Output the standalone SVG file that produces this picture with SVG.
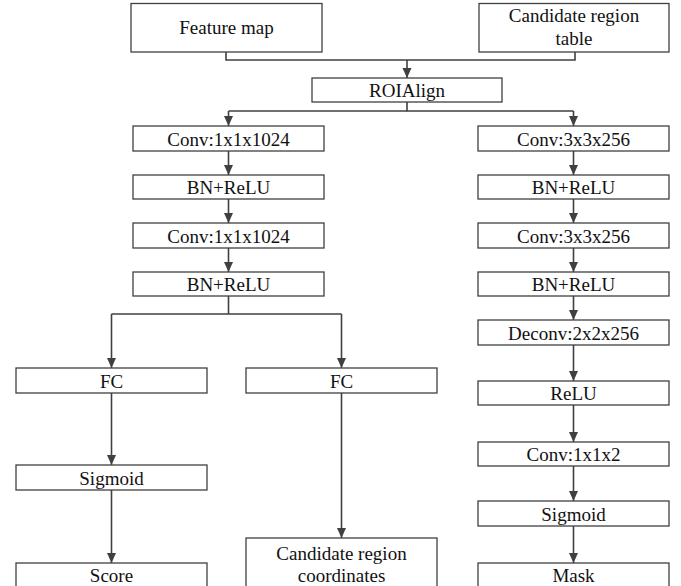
<svg xmlns="http://www.w3.org/2000/svg" width="681" height="586" viewBox="0 0 681 586">
<defs>
<marker id="arr" markerUnits="userSpaceOnUse" markerWidth="10" markerHeight="10" refX="10" refY="4.5" orient="auto">
<path d="M0,0 L10,4.5 L0,9 z" fill="#404040"/>
</marker>
<style>
.box{fill:#fff;stroke:#404040;stroke-width:1.3}
.c{fill:none;stroke:#404040;stroke-width:1.6}
.a{fill:none;stroke:#404040;stroke-width:1.6;marker-end:url(#arr)}
</style>
</defs>
<rect width="681" height="586" fill="#fff"/>
<g id="connectors">
<path class="c" d="M226,52 V60 H575 V52"/>
<path class="a" d="M407,60 V78"/>
<path class="c" d="M407,102 V111 H573.5"/>
<path class="c" d="M407,111 H228.5"/>
<path class="a" d="M228.5,111 V126"/>
<path class="a" d="M573.5,111 V126"/>
<path class="a" d="M228.5,151 V175"/>
<path class="a" d="M228.5,199 V223"/>
<path class="a" d="M228.5,248 V272"/>
<path class="c" d="M228.5,296 V314 M111.5,314 H341.5"/>
<path class="a" d="M111.5,314 V368"/>
<path class="a" d="M341.5,314 V368"/>
<path class="a" d="M111.5,393 V465"/>
<path class="a" d="M111.5,490 V563"/>
<path class="a" d="M341.5,393 V538"/>
<path class="a" d="M573.5,151 V175"/>
<path class="a" d="M573.5,199 V223"/>
<path class="a" d="M573.5,248 V272"/>
<path class="a" d="M573.5,296 V320"/>
<path class="a" d="M573.5,345 V381"/>
<path class="a" d="M573.5,405 V442"/>
<path class="a" d="M573.5,466 V501"/>
<path class="a" d="M573.5,526 V563"/>
</g>
<g id="feature-map"><rect class="box" x="131" y="3.5" width="191" height="48.5"/><text font-family="Liberation Serif" font-size="19" fill="#111" text-anchor="middle" x="226.5" y="34">Feature map</text></g>
<g id="candidate-table"><rect class="box" x="479" y="3.5" width="190" height="48.5"/><text font-family="Liberation Serif" font-size="19" fill="#111" text-anchor="middle" x="574" y="22">Candidate region</text><text font-family="Liberation Serif" font-size="19" fill="#111" text-anchor="middle" x="574" y="45">table</text></g>
<g id="roialign"><rect class="box" x="312" y="78" width="190" height="24"/><text font-family="Liberation Serif" font-size="19" fill="#111" text-anchor="middle" x="407" y="97">ROIAlign</text></g>
<g id="l-conv1"><rect class="box" x="133" y="126" width="191" height="25"/><text font-family="Liberation Serif" font-size="19" fill="#111" text-anchor="middle" x="228.5" y="145.5">Conv:1x1x1024</text></g>
<g id="l-bn1"><rect class="box" x="133" y="175" width="191" height="24"/><text font-family="Liberation Serif" font-size="19" fill="#111" text-anchor="middle" x="228.5" y="194">BN+ReLU</text></g>
<g id="l-conv2"><rect class="box" x="133" y="223" width="191" height="25"/><text font-family="Liberation Serif" font-size="19" fill="#111" text-anchor="middle" x="228.5" y="242.5">Conv:1x1x1024</text></g>
<g id="l-bn2"><rect class="box" x="133" y="272" width="191" height="24"/><text font-family="Liberation Serif" font-size="19" fill="#111" text-anchor="middle" x="228.5" y="291">BN+ReLU</text></g>
<g id="fc1"><rect class="box" x="16" y="368" width="191" height="25"/><text font-family="Liberation Serif" font-size="19" fill="#111" text-anchor="middle" x="111.5" y="387.5">FC</text></g>
<g id="fc2"><rect class="box" x="246" y="368" width="191" height="25"/><text font-family="Liberation Serif" font-size="19" fill="#111" text-anchor="middle" x="341.5" y="387.5">FC</text></g>
<g id="l-sigmoid"><rect class="box" x="16" y="465" width="191" height="25"/><text font-family="Liberation Serif" font-size="19" fill="#111" text-anchor="middle" x="111.5" y="484.5">Sigmoid</text></g>
<g id="score"><rect class="box" x="16" y="563" width="191" height="30"/><text font-family="Liberation Serif" font-size="19" fill="#111" text-anchor="middle" x="111.5" y="582">Score</text></g>
<g id="coords"><rect class="box" x="246" y="538" width="191" height="55"/><text font-family="Liberation Serif" font-size="19" fill="#111" text-anchor="middle" x="341.5" y="560">Candidate region</text><text font-family="Liberation Serif" font-size="19" fill="#111" text-anchor="middle" x="341.5" y="582">coordinates</text></g>
<g id="r-conv1"><rect class="box" x="478" y="126" width="191" height="25"/><text font-family="Liberation Serif" font-size="19" fill="#111" text-anchor="middle" x="573.5" y="145.5">Conv:3x3x256</text></g>
<g id="r-bn1"><rect class="box" x="478" y="175" width="191" height="24"/><text font-family="Liberation Serif" font-size="19" fill="#111" text-anchor="middle" x="573.5" y="194">BN+ReLU</text></g>
<g id="r-conv2"><rect class="box" x="478" y="223" width="191" height="25"/><text font-family="Liberation Serif" font-size="19" fill="#111" text-anchor="middle" x="573.5" y="242.5">Conv:3x3x256</text></g>
<g id="r-bn2"><rect class="box" x="478" y="272" width="191" height="24"/><text font-family="Liberation Serif" font-size="19" fill="#111" text-anchor="middle" x="573.5" y="291">BN+ReLU</text></g>
<g id="deconv"><rect class="box" x="478" y="320" width="191" height="25"/><text font-family="Liberation Serif" font-size="19" fill="#111" text-anchor="middle" x="573.5" y="339.5">Deconv:2x2x256</text></g>
<g id="relu"><rect class="box" x="478" y="381" width="191" height="24"/><text font-family="Liberation Serif" font-size="19" fill="#111" text-anchor="middle" x="573.5" y="400">ReLU</text></g>
<g id="conv112"><rect class="box" x="478" y="442" width="191" height="24"/><text font-family="Liberation Serif" font-size="19" fill="#111" text-anchor="middle" x="573.5" y="461">Conv:1x1x2</text></g>
<g id="r-sigmoid"><rect class="box" x="478" y="501" width="191" height="25"/><text font-family="Liberation Serif" font-size="19" fill="#111" text-anchor="middle" x="573.5" y="520.5">Sigmoid</text></g>
<g id="mask"><rect class="box" x="478" y="563" width="191" height="30"/><text font-family="Liberation Serif" font-size="19" fill="#111" text-anchor="middle" x="573.5" y="582">Mask</text></g>
</svg>
